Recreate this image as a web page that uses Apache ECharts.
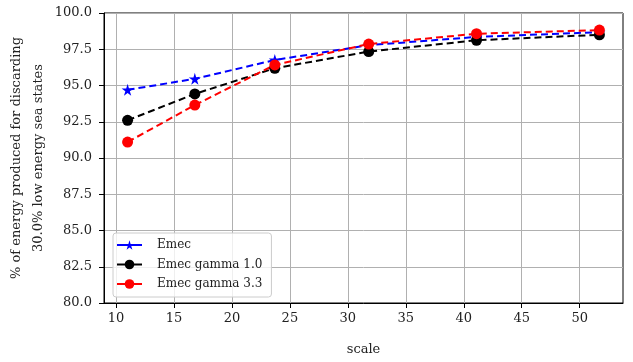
<!DOCTYPE html>
<html>
<head>
<meta charset="utf-8">
<script src="https://cdn.jsdelivr.net/npm/echarts@6/dist/echarts.min.js"></script>
<style>html,body{margin:0;padding:0;background:#fff}#c{width:633px;height:362px}</style>
</head>
<body>
<div id="c"></div>
<script>
const scales = [11.0, 16.8, 23.7, 31.8, 41.1, 51.7];
const emec = [94.7, 95.46, 96.76, 97.78, 98.35, 98.68];
const emecGamma10 = [92.6, 94.42, 96.19, 97.34, 98.12, 98.5];
const emecGamma33 = [91.1, 93.65, 96.42, 97.86, 98.57, 98.82];
const xTicks = [10, 15, 20, 25, 30, 35, 40, 45, 50];
const yTicks = [80, 82.5, 85, 87.5, 90, 92.5, 95, 97.5, 100];
const seriesNames = ['Emec', 'Emec gamma 1.0', 'Emec gamma 3.3'];

const FONT = 'DejaVu Serif';
const star = 'path://M50,0 L61,35 L98,35 L68,57 L79,91 L50,70 L21,91 L32,57 L2,35 L39,35 Z';
const pairs = ys => scales.map((x, i) => [x, ys[i]]);
const xSpan = scales[scales.length - 1] - scales[0];
const xMin = scales[0] - 0.05 * xSpan;
const xMax = scales[scales.length - 1] + 0.05 * xSpan;

const chart = echarts.init(document.getElementById('c'), null, {renderer: 'canvas'});
const mk = (name, ys, color, symbol, size) => ({
  name, type: 'line', data: pairs(ys),
  symbol, symbolSize: size,
  lineStyle: {color, width: 2, type: [7, 4]},
  itemStyle: {color},
  emphasis: {disabled: true},
  animation: false
});
chart.setOption({
  animation: false,
  grid: {left: 104, right: 10, top: 13, bottom: 59, show: true, borderColor: '#000', borderWidth: 1,
    containLabel: false, outerBoundsMode: 'none'},
  xAxis: {
    type: 'value', min: xMin, max: xMax,
    name: 'scale', nameLocation: 'middle', nameGap: 40, nameMoveOverlap: false,
    nameTextStyle: {fontFamily: FONT, fontSize: 13, color: '#222'},
    axisLine: {show: true, onZero: false, lineStyle: {color: '#000', width: 1}},
    axisTick: {show: true, inside: false, length: 5, customValues: xTicks, lineStyle: {color: '#000'}},
    axisLabel: {customValues: xTicks, fontFamily: FONT, fontSize: 13, color: '#222', margin: 9},
    splitLine: {show: true, lineStyle: {color: '#b0b0b0', width: 1}}
  },
  yAxis: {
    type: 'value', min: yTicks[0], max: yTicks[yTicks.length - 1], interval: 2.5,
    name: '% of energy produced for discarding\n30.0% low energy sea states',
    nameLocation: 'middle', nameGap: 54, nameRotate: 90, nameMoveOverlap: false,
    nameTextStyle: {fontFamily: FONT, fontSize: 13, color: '#222', lineHeight: 22},
    axisLine: {show: true, onZero: false, lineStyle: {color: '#000', width: 1}},
    axisTick: {show: true, inside: false, length: 5, lineStyle: {color: '#000'}},
    axisLabel: {fontFamily: FONT, fontSize: 13, color: '#222', margin: 12,
      formatter: v => v.toFixed(1)},
    splitLine: {show: true, lineStyle: {color: '#b0b0b0', width: 1}}
  },
  legend: {
    left: 113, top: 233, orient: 'vertical',
    data: seriesNames,
    itemWidth: 25, itemHeight: 12, itemGap: 7.5,
    padding: [6, 9, 7, 3],
    backgroundColor: 'rgba(255,255,255,0.8)',
    borderColor: '#cccccc', borderWidth: 1, borderRadius: 3,
    lineStyle: {type: 'solid', width: 2},
    textStyle: {fontFamily: FONT, fontSize: 12, color: '#222', padding: [0, 0, 0, 10]}
  },
  series: [
    mk(seriesNames[0], emec, '#0000ff', star, 12),
    mk(seriesNames[1], emecGamma10, '#000000', 'circle', 11),
    mk(seriesNames[2], emecGamma33, '#ff0000', 'circle', 11)
  ]
});
</script>
</body>
</html>
